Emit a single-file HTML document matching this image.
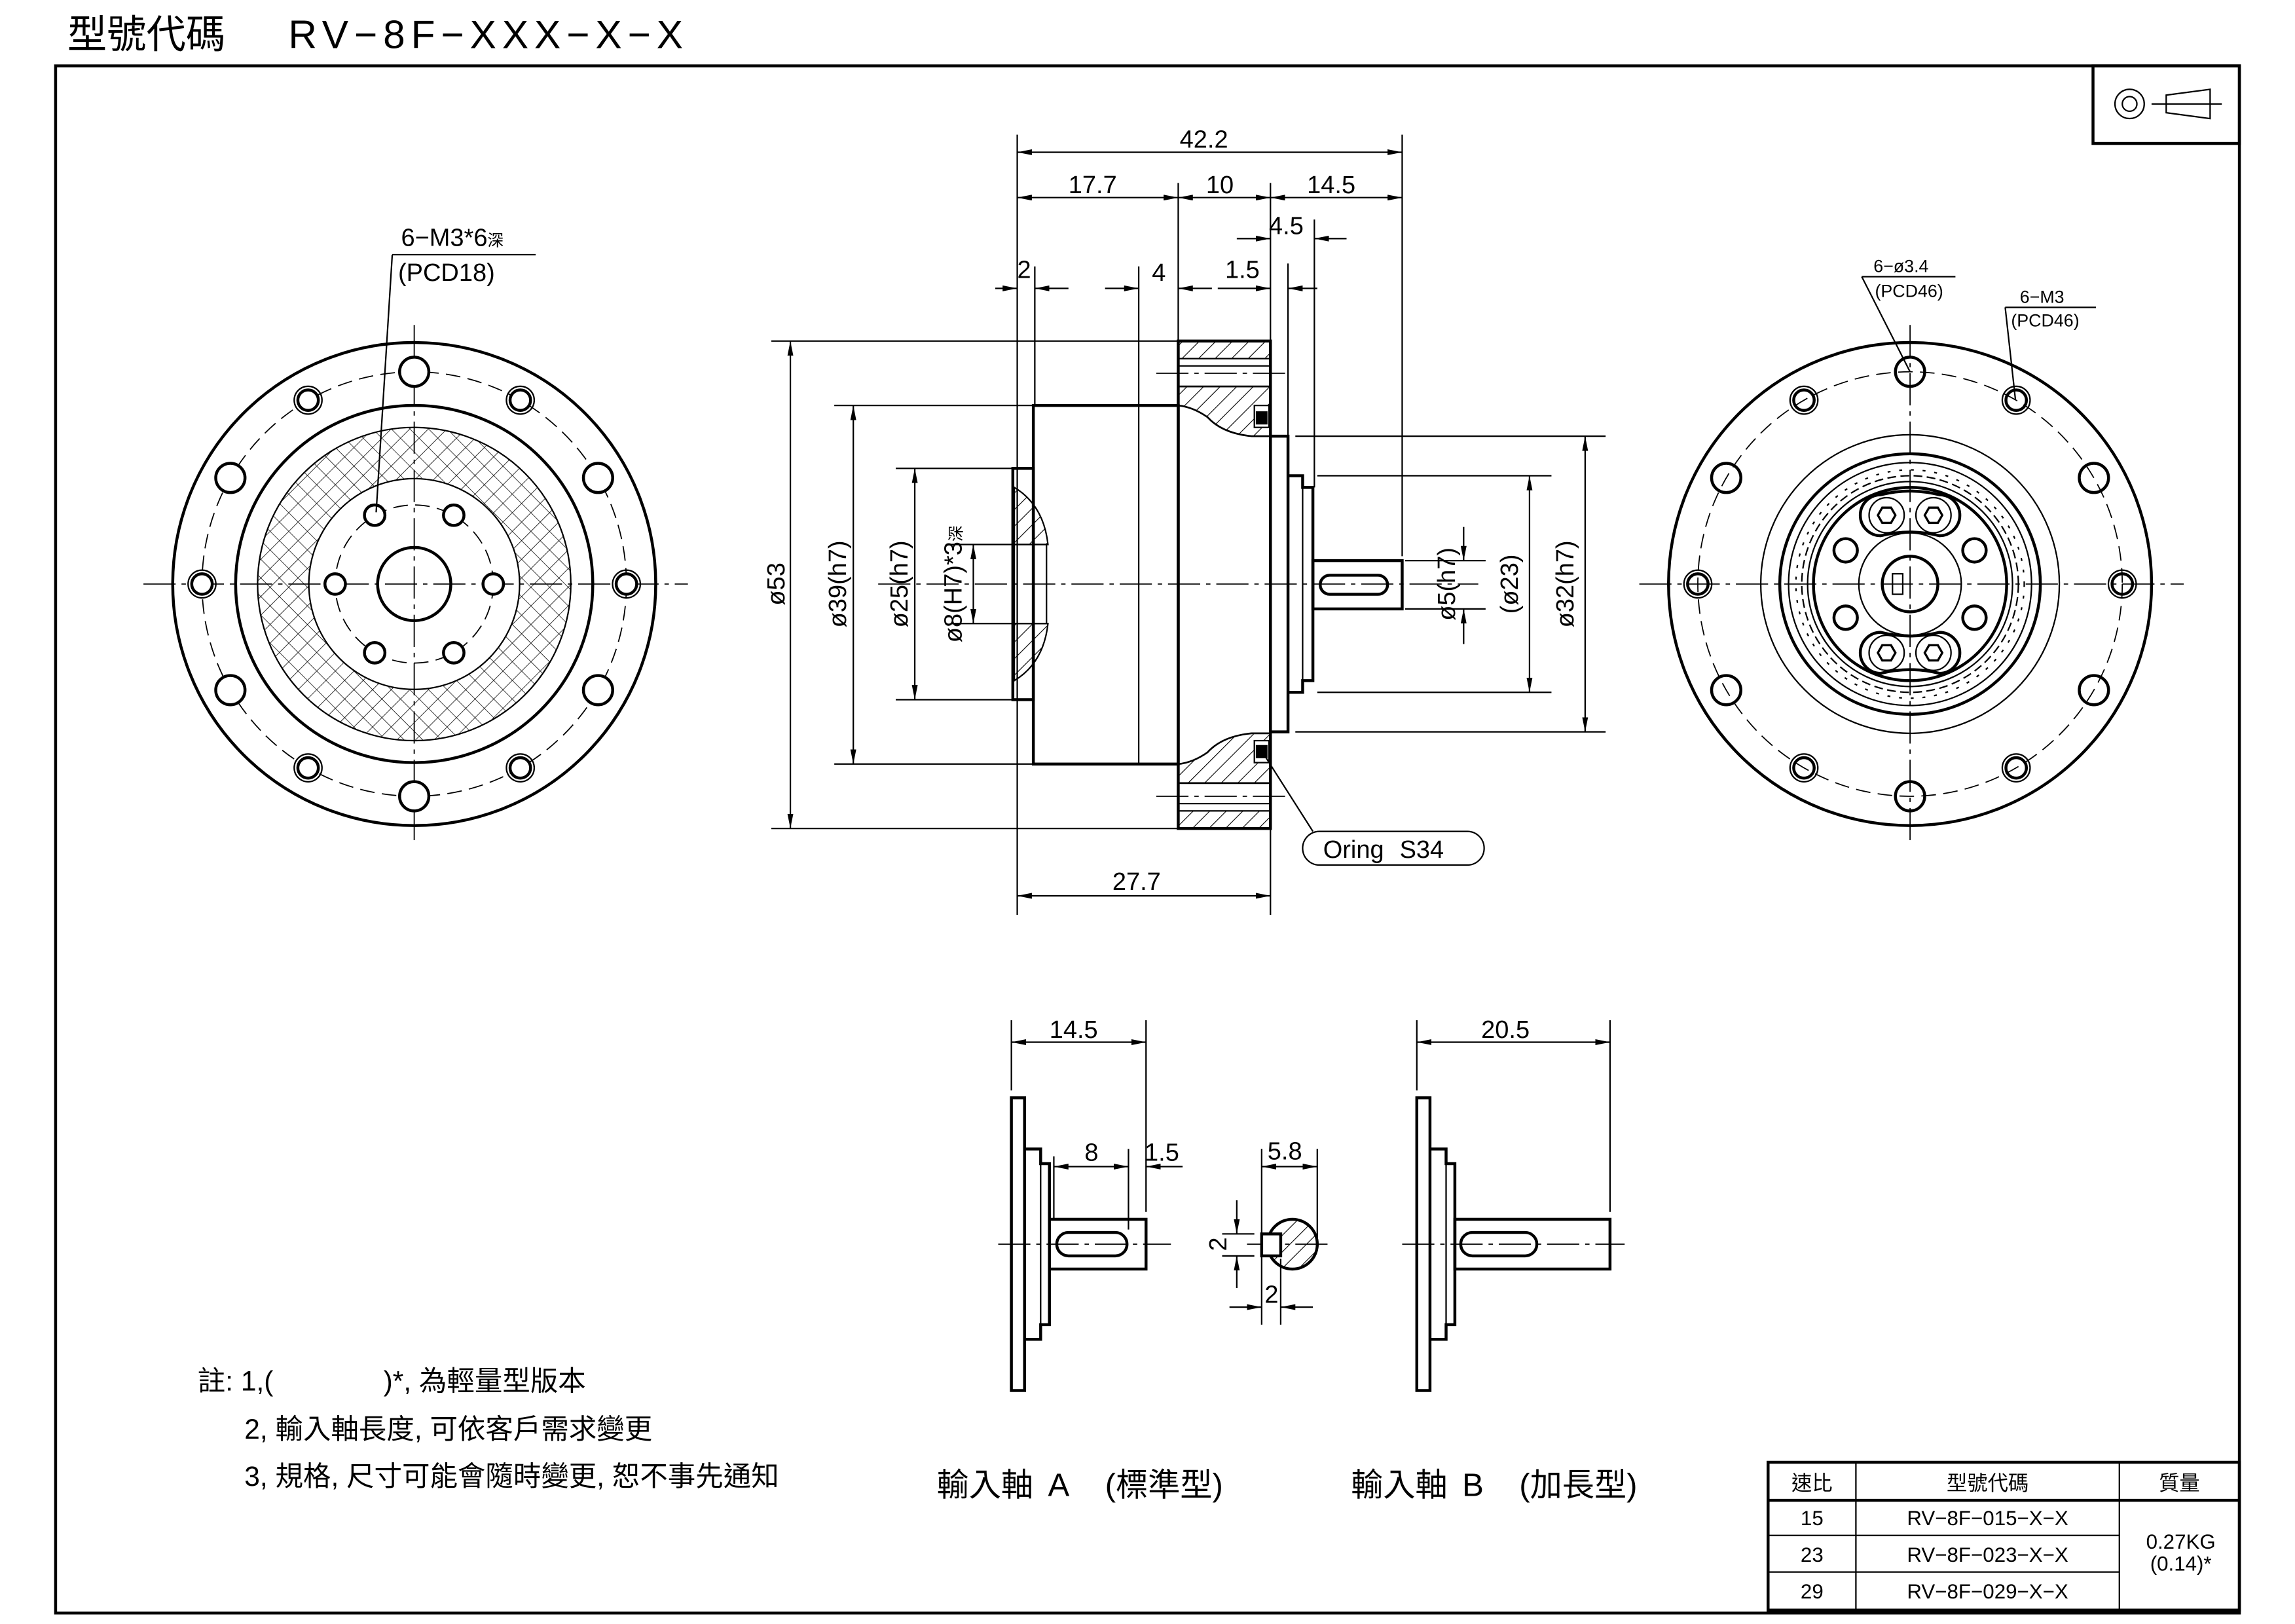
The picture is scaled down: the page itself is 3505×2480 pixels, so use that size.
<!DOCTYPE html>
<html><head><meta charset="utf-8"><style>
html,body{margin:0;padding:0;background:#fff}
svg{display:block}
text{font-family:"Liberation Sans","Noto Sans CJK TC",sans-serif;fill:#000}
</style></head><body>
<svg width="3505" height="2480" viewBox="0 0 1568 1109.5" preserveAspectRatio="none" xmlns="http://www.w3.org/2000/svg">
<defs>
<pattern id="h" width="8" height="8" patternUnits="userSpaceOnUse" patternTransform="rotate(45)"><line x1="0" y1="0" x2="0" y2="8" stroke="#000" stroke-width="1"/></pattern>
<pattern id="x" width="9" height="9" patternUnits="userSpaceOnUse" patternTransform="rotate(45)"><line x1="0" y1="0" x2="0" y2="9" stroke="#000" stroke-width="0.7"/><line x1="0" y1="0" x2="9" y2="0" stroke="#000" stroke-width="0.7"/></pattern>
<marker id="a" viewBox="0 0 10 4" refX="10" refY="2" markerWidth="10" markerHeight="4" markerUnits="userSpaceOnUse" orient="auto-start-reverse"><path d="M0,0L10,2L0,4z" fill="#000"/></marker>
</defs>
<style>
.k{fill:none;stroke:#000;stroke-width:2}
.t{fill:none;stroke:#000;stroke-width:1}
.c{fill:none;stroke:#000;stroke-width:0.8;stroke-dasharray:22 4 3 4}
.d{fill:none;stroke:#000;stroke-width:0.8;stroke-dasharray:10 5}
.m{stroke:#000;stroke-width:1;fill:none;marker-start:url(#a);marker-end:url(#a)}
.e{stroke:#000;stroke-width:1;fill:none;marker-end:url(#a)}
.f{font-size:17px}
</style>

<text x="46" y="33" style="font-size:27px">型號代碼</text>
<text x="197" y="33" style="font-size:27px;letter-spacing:4px">RV−8F−XXX−X−X</text>
<rect x="38" y="45" width="1492" height="1057" class="k" stroke-width="2.5"/>
<rect x="1430" y="45" width="100" height="53" class="k"/>
<circle cx="1455" cy="71" r="10" class="t" stroke-width="1.5"/><circle cx="1455" cy="71" r="5" class="t" stroke-width="1.5"/>
<path d="M1480,65 L1510,61 L1510,81 L1480,77 Z M1470,71 H1518" class="t" stroke-width="1.5"/>

<g>
<line x1="98" y1="399" x2="470" y2="399" class="c"/>
<line x1="283" y1="222" x2="283" y2="578" class="c"/>
<circle cx="283" cy="399" r="165" class="k"/>
<circle cx="283" cy="399" r="145" class="d"/>
<circle cx="283" cy="399" r="122" class="k"/>
<path d="M283,292 a107,107 0 1,0 0.1,0 Z M283,327 a72,72 0 1,1 -0.1,0 Z" fill="url(#x)" fill-rule="evenodd"/>
<circle cx="283" cy="399" r="107" class="t"/>
<circle cx="283" cy="399" r="72" class="t"/>
<circle cx="283" cy="399" r="54" class="d"/>
<circle cx="283" cy="399" r="25" class="k"/>
<g class="k" style="fill:#fff">
<circle cx="337" cy="399" r="7"/><circle cx="310" cy="352" r="7"/><circle cx="256" cy="352" r="7"/><circle cx="229" cy="399" r="7"/><circle cx="256" cy="446" r="7"/><circle cx="310" cy="446" r="7"/>
<circle cx="408.6" cy="326.5" r="10"/><circle cx="283" cy="254" r="10"/><circle cx="157.4" cy="326.5" r="10"/><circle cx="157.4" cy="471.5" r="10"/><circle cx="283" cy="544" r="10"/><circle cx="408.6" cy="471.5" r="10"/>
<circle cx="428" cy="399" r="7"/><circle cx="355.5" cy="273.4" r="7"/><circle cx="210.5" cy="273.4" r="7"/><circle cx="138" cy="399" r="7"/><circle cx="210.5" cy="524.6" r="7"/><circle cx="355.5" cy="524.6" r="7"/>
</g>
<g class="t">
<circle cx="428" cy="399" r="9.5"/><circle cx="355.5" cy="273.4" r="9.5"/><circle cx="210.5" cy="273.4" r="9.5"/><circle cx="138" cy="399" r="9.5"/><circle cx="210.5" cy="524.6" r="9.5"/><circle cx="355.5" cy="524.6" r="9.5"/>
</g>
<text x="274" y="168" class="f">6−M3*6<tspan style="font-size:11px">深</tspan></text>
<line x1="268" y1="174" x2="366" y2="174" class="t"/>
<text x="272" y="192" class="f">(PCD18)</text>
<line x1="268" y1="174" x2="257" y2="350" class="t"/>
</g>

<g>
<line x1="600" y1="399" x2="1010" y2="399" class="c"/>
<rect x="692" y="320" width="14" height="158" class="k"/>
<path d="M693,333 Q713,345 716,372 L693,372 Z M693,465 Q713,453 716,426 L693,426 Z" fill="url(#h)" stroke="#000" stroke-width="1"/>
<rect x="693" y="372" width="22" height="54" class="t"/>
<rect x="706" y="277" width="99" height="245" class="k"/>
<line x1="778" y1="277" x2="778" y2="522" class="t"/>
<rect x="805" y="233" width="63" height="333" class="k"/>
<rect x="805" y="233" width="63" height="12" fill="url(#h)" stroke="#000" stroke-width="1"/>
<rect x="805" y="554" width="63" height="12" fill="url(#h)" stroke="#000" stroke-width="1"/>
<line x1="805" y1="250" x2="868" y2="250" class="t"/><line x1="805" y1="549" x2="868" y2="549" class="t"/>
<line x1="790" y1="255" x2="882" y2="255" class="c"/><line x1="790" y1="544" x2="882" y2="544" class="c"/>
<path d="M805,264 L868,264 L868,298 L855,298 Q835,296 825,285 Q815,278 805,277 Z" fill="url(#h)" stroke="#000" stroke-width="1.2"/>
<path d="M805,535 L868,535 L868,501 L855,501 Q835,503 825,514 Q815,521 805,522 Z" fill="url(#h)" stroke="#000" stroke-width="1.2"/>
<rect x="857" y="277" width="10" height="15" fill="#fff" stroke="#000" stroke-width="1"/>
<rect x="858" y="281" width="8" height="9" fill="#000"/>
<rect x="857" y="506" width="10" height="15" fill="#fff" stroke="#000" stroke-width="1"/>
<rect x="858" y="509" width="8" height="9" fill="#000"/>
<rect x="868" y="298" width="12" height="202" class="k"/>
<path d="M880,325 H890 V333 H897 V465 H890 V473 H880" class="k"/>
<line x1="890" y1="333" x2="890" y2="465" class="t"/>
<rect x="897" y="383" width="61" height="33" class="k"/>
<rect x="902" y="393" width="46" height="13" rx="6.5" class="k"/>
<g class="t">
<line x1="695" y1="92" x2="695" y2="625"/><line x1="958" y1="92" x2="958" y2="380"/>
<line x1="805" y1="125" x2="805" y2="233"/><line x1="868" y1="125" x2="868" y2="625"/>
<line x1="707" y1="182" x2="707" y2="277"/><line x1="778" y1="182" x2="778" y2="277"/>
<line x1="880" y1="180" x2="880" y2="298"/><line x1="898" y1="150" x2="898" y2="333"/>
</g>
<line x1="695" y1="104" x2="958" y2="104" class="m"/><text x="806" y="101" class="f">42.2</text>
<line x1="695" y1="135" x2="805" y2="135" class="m"/><text x="730" y="132" class="f">17.7</text>
<line x1="805" y1="135" x2="868" y2="135" class="m"/><text x="824" y="132" class="f">10</text>
<line x1="868" y1="135" x2="958" y2="135" class="m"/><text x="893" y="132" class="f">14.5</text>
<line x1="845" y1="163" x2="868" y2="163" class="e"/><line x1="920" y1="163" x2="898" y2="163" class="e"/><text x="867" y="160" class="f">4.5</text>
<line x1="680" y1="197" x2="695" y2="197" class="e"/><line x1="730" y1="197" x2="707" y2="197" class="e"/><text x="695" y="190" class="f">2</text>
<line x1="755" y1="197" x2="778" y2="197" class="e"/><line x1="828" y1="197" x2="805" y2="197" class="e"/><text x="787" y="192" class="f">4</text>
<line x1="832" y1="197" x2="868" y2="197" class="e"/><line x1="900" y1="197" x2="880" y2="197" class="e"/><text x="837" y="190" class="f">1.5</text>
<g class="t">
<line x1="527" y1="233" x2="805" y2="233"/><line x1="527" y1="566" x2="805" y2="566"/>
<line x1="570" y1="277" x2="706" y2="277"/><line x1="570" y1="522" x2="706" y2="522"/>
<line x1="612" y1="320" x2="692" y2="320"/><line x1="612" y1="478" x2="692" y2="478"/>
<line x1="650" y1="372" x2="692" y2="372"/><line x1="650" y1="426" x2="692" y2="426"/>
<line x1="960" y1="383" x2="1015" y2="383"/><line x1="960" y1="416" x2="1015" y2="416"/>
<line x1="900" y1="325" x2="1060" y2="325"/><line x1="900" y1="473" x2="1060" y2="473"/>
<line x1="885" y1="298" x2="1097" y2="298"/><line x1="885" y1="500" x2="1097" y2="500"/>
</g>
<line x1="540" y1="233" x2="540" y2="566" class="m"/><text transform="translate(536,399) rotate(-90)" text-anchor="middle" class="f">ø53</text>
<line x1="583" y1="277" x2="583" y2="522" class="m"/><text transform="translate(578,399) rotate(-90)" text-anchor="middle" class="f">ø39(h7)</text>
<line x1="625" y1="320" x2="625" y2="478" class="m"/><text transform="translate(620,399) rotate(-90)" text-anchor="middle" class="f">ø25(h7)</text>
<line x1="665" y1="372" x2="665" y2="426" class="m"/><text transform="translate(657,399) rotate(-90)" text-anchor="middle" class="f">ø8(H7)*3<tspan style="font-size:11px">深</tspan></text>
<line x1="1000" y1="360" x2="1000" y2="383" class="e"/><line x1="1000" y1="440" x2="1000" y2="416" class="e"/><text transform="translate(994,399) rotate(-90)" text-anchor="middle" class="f">ø5(h7)</text>
<line x1="1045" y1="325" x2="1045" y2="473" class="m"/><text transform="translate(1037,399) rotate(-90)" text-anchor="middle" class="f">(ø23)</text>
<line x1="1083" y1="298" x2="1083" y2="500" class="m"/><text transform="translate(1075,399) rotate(-90)" text-anchor="middle" class="f">ø32(h7)</text>
<line x1="695" y1="612" x2="868" y2="612" class="m"/><text x="760" y="608" class="f">27.7</text>
<line x1="862" y1="513" x2="897" y2="568" class="t"/>
<rect x="890" y="568" width="124" height="23" rx="11.5" class="t" stroke-width="1.3"/>
<text x="904" y="586" class="f" style="word-spacing:6px">Oring S34</text>
</g>

<g>
<line x1="1120" y1="399" x2="1492" y2="399" class="c"/>
<line x1="1305" y1="222" x2="1305" y2="578" class="c"/>
<circle cx="1305" cy="399" r="165" class="k"/>
<circle cx="1305" cy="399" r="145" class="d"/>
<circle cx="1305" cy="399" r="102" class="t" stroke-width="1.3"/>
<circle cx="1305" cy="399" r="89" class="k"/>
<circle cx="1305" cy="399" r="83" class="t"/>
<circle cx="1305" cy="399" r="78" class="t" stroke-width="3" stroke-dasharray="2 6"/>
<circle cx="1305" cy="399" r="74" class="t" stroke-dasharray="6 3"/>
<circle cx="1305" cy="399" r="70" class="t"/>
<circle cx="1305" cy="399" r="66" class="k"/>
<circle cx="1305" cy="399" r="35" class="t" stroke-width="1.3"/>
<circle cx="1305" cy="399" r="19" class="k"/>
<rect x="1293" y="392" width="7" height="14" class="t"/>
<path d="M1285,338 Q1305,333 1325,338 A14,14 0 0 1 1325,366 Q1305,361 1285,366 A14,14 0 0 1 1285,338 Z" class="k"/>
<path d="M1285,432 Q1305,437 1325,432 A14,14 0 0 1 1325,460 Q1305,455 1285,460 A14,14 0 0 1 1285,432 Z" class="k"/>
<g class="t">
<circle cx="1289" cy="352" r="12"/><circle cx="1321" cy="352" r="12"/><circle cx="1289" cy="446" r="12"/><circle cx="1321" cy="446" r="12"/>
<polygon points="1283,352 1286,346.8 1292,346.8 1295,352 1292,357.2 1286,357.2" stroke-width="1.5"/>
<polygon points="1315,352 1318,346.8 1324,346.8 1327,352 1324,357.2 1318,357.2" stroke-width="1.5"/>
<polygon points="1283,446 1286,440.8 1292,440.8 1295,446 1292,451.2 1286,451.2" stroke-width="1.5"/>
<polygon points="1315,446 1318,440.8 1324,440.8 1327,446 1324,451.2 1318,451.2" stroke-width="1.5"/>
</g>
<g class="k">
<circle cx="1261" cy="376" r="8"/><circle cx="1349" cy="376" r="8"/><circle cx="1261" cy="422" r="8"/><circle cx="1349" cy="422" r="8"/>
<circle cx="1430.6" cy="326.5" r="10"/><circle cx="1305" cy="254" r="10"/><circle cx="1179.4" cy="326.5" r="10"/><circle cx="1179.4" cy="471.5" r="10"/><circle cx="1305" cy="544" r="10"/><circle cx="1430.6" cy="471.5" r="10"/>
<circle cx="1450" cy="399" r="7"/><circle cx="1377.5" cy="273.4" r="7"/><circle cx="1232.5" cy="273.4" r="7"/><circle cx="1160" cy="399" r="7"/><circle cx="1232.5" cy="524.6" r="7"/><circle cx="1377.5" cy="524.6" r="7"/>
</g>
<g class="t">
<circle cx="1450" cy="399" r="9.5"/><circle cx="1377.5" cy="273.4" r="9.5"/><circle cx="1232.5" cy="273.4" r="9.5"/><circle cx="1160" cy="399" r="9.5"/><circle cx="1232.5" cy="524.6" r="9.5"/><circle cx="1377.5" cy="524.6" r="9.5"/>
</g>
<text x="1280" y="186" style="font-size:12px">6−ø3.4</text>
<line x1="1272" y1="189" x2="1336" y2="189" class="t"/>
<text x="1281" y="203" style="font-size:12px">(PCD46)</text>
<line x1="1272" y1="189" x2="1305" y2="254" class="t"/>
<text x="1380" y="207" style="font-size:12px">6−M3</text>
<line x1="1370" y1="210" x2="1432" y2="210" class="t"/>
<text x="1374" y="223" style="font-size:12px">(PCD46)</text>
<line x1="1370" y1="210" x2="1377" y2="273" class="t"/>
</g>

<g>
<line x1="682" y1="850" x2="800" y2="850" class="c"/>
<rect x="691" y="750" width="9" height="200" class="k"/>
<path d="M700,785 H711 V795 H717 V905 H711 V915 H700" class="k"/>
<line x1="711" y1="795" x2="711" y2="905" class="t"/>
<rect x="717" y="833" width="66" height="34" class="k"/>
<rect x="722" y="842" width="48" height="16" rx="8" class="k"/>
<line x1="691" y1="697" x2="691" y2="745" class="t"/><line x1="783" y1="697" x2="783" y2="828" class="t"/>
<line x1="691" y1="712" x2="783" y2="712" class="m"/><text x="717" y="709" class="f">14.5</text>
<line x1="720" y1="790" x2="720" y2="833" class="t"/><line x1="771" y1="785" x2="771" y2="840" class="t"/>
<line x1="720" y1="797" x2="771" y2="797" class="m"/><text x="741" y="793" class="f">8</text>
<line x1="808" y1="797" x2="783" y2="797" class="e"/><text x="782" y="793" class="f">1.5</text>
<line x1="852" y1="850" x2="910" y2="850" class="c"/>
<circle cx="883" cy="850" r="17" fill="url(#h)" stroke="#000" stroke-width="2"/>
<rect x="862" y="843" width="13" height="15" fill="#fff" stroke="#000" stroke-width="2"/>
<line x1="862" y1="785" x2="862" y2="905" class="t"/><line x1="900" y1="785" x2="900" y2="850" class="t"/>
<line x1="862" y1="797" x2="900" y2="797" class="m"/><text x="866" y="792" class="f">5.8</text>
<line x1="835" y1="843" x2="857" y2="843" class="t"/><line x1="835" y1="858" x2="857" y2="858" class="t"/>
<line x1="845" y1="820" x2="845" y2="843" class="e"/><line x1="845" y1="880" x2="845" y2="858" class="e"/>
<text transform="translate(838,850) rotate(-90)" text-anchor="middle" class="f">2</text>
<line x1="875" y1="860" x2="875" y2="905" class="t"/>
<line x1="840" y1="893" x2="862" y2="893" class="e"/><line x1="897" y1="893" x2="875" y2="893" class="e"/><text x="864" y="890" class="f">2</text>
</g>

<g>
<line x1="958" y1="850" x2="1110" y2="850" class="c"/>
<rect x="968" y="750" width="9" height="200" class="k"/>
<path d="M977,785 H988 V795 H994 V905 H988 V915 H977" class="k"/>
<line x1="988" y1="795" x2="988" y2="905" class="t"/>
<rect x="994" y="833" width="106" height="34" class="k"/>
<rect x="998" y="842" width="52" height="16" rx="8" class="k"/>
<line x1="968" y1="697" x2="968" y2="745" class="t"/><line x1="1100" y1="697" x2="1100" y2="828" class="t"/>
<line x1="968" y1="712" x2="1100" y2="712" class="m"/><text x="1012" y="709" class="f">20.5</text>
</g>

<g style="font-size:19px">
<text x="135" y="950">註: 1,(</text><text x="262" y="950">)*, 為輕量型版本</text>
<text x="167" y="983">2, 輸入軸長度, 可依客戶需求變更</text>
<text x="167" y="1015">3, 規格, 尺寸可能會隨時變更, 恕不事先通知</text>
</g>
<g style="font-size:22px">
<text x="640" y="1022">輸入軸</text><text x="716" y="1022">A</text><text x="755" y="1022">(標準型)</text>
<text x="923" y="1022">輸入軸</text><text x="999" y="1022">B</text><text x="1038" y="1022">(加長型)</text>
</g>

<g>
<rect x="1208" y="999" width="322" height="101" class="k"/>
<line x1="1208" y1="1025" x2="1530" y2="1025" class="k"/>
<line x1="1208" y1="1049" x2="1448" y2="1049" class="t" stroke-width="1.5"/>
<line x1="1208" y1="1074" x2="1448" y2="1074" class="t" stroke-width="1.5"/>
<line x1="1268" y1="999" x2="1268" y2="1100" class="t" stroke-width="1.5"/>
<line x1="1448" y1="999" x2="1448" y2="1100" class="t" stroke-width="1.5"/>
<g style="font-size:14px" text-anchor="middle">
<text x="1238" y="1018">速比</text><text x="1358" y="1018">型號代碼</text><text x="1489" y="1018">質量</text>
<text x="1238" y="1042">15</text><text x="1358" y="1042">RV−8F−015−X−X</text>
<text x="1238" y="1067">23</text><text x="1358" y="1067">RV−8F−023−X−X</text>
<text x="1238" y="1092">29</text><text x="1358" y="1092">RV−8F−029−X−X</text>
<text x="1490" y="1058">0.27KG</text><text x="1490" y="1073">(0.14)*</text>
</g>
</g>
</svg>
</body></html>
